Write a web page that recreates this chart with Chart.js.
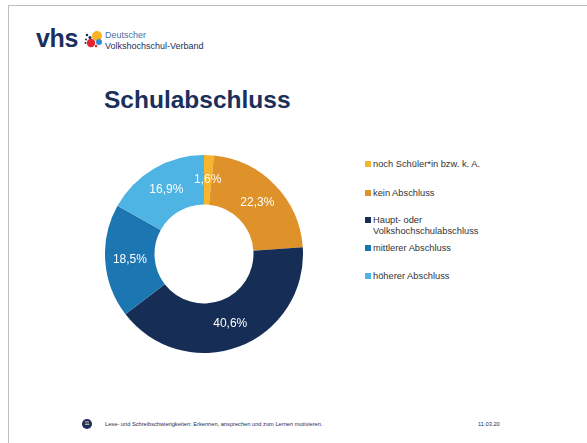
<!DOCTYPE html>
<html>
<head>
<meta charset="utf-8">
<script src="https://cdn.jsdelivr.net/npm/chart.js@4/dist/chart.umd.min.js"></script>
<style>
  body { margin: 0; width: 587px; height: 443px; background: #fff; font-family: "Liberation Sans", Arial, sans-serif; position: relative; overflow: hidden; }
  .frame-top { position: absolute; left: 8px; top: 5px; right: 0; height: 1px; background: #bdbdbd; }
  .frame-left { position: absolute; left: 8px; top: 5px; bottom: 0; width: 1px; background: #bdbdbd; }
  .logo-text { position: absolute; left: 36px; top: 24px; font-weight: bold; font-size: 25px; color: #1b2f5c; letter-spacing: -0.3px; }
  .org { position: absolute; left: 105px; top: 30px; font-size: 9px; line-height: 11px; color: #1b2f5c; }
  .org .light { color: #4a6ea0; }
  h1 { position: absolute; left: 104px; top: 86px; margin: 0; font-size: 24.5px; font-weight: bold; color: #1b2f5c; }
  #wrap { position: absolute; left: 105px; top: 155px; width: 198px; height: 198px; }
  #legend { position: absolute; left: 365px; top: 155px; font-size: 9.3px; color: #333; }
  .item { position: absolute; left: 0; white-space: nowrap; line-height: 11px; }
  .item .box { position: absolute; left: 0; top: 2px; width: 6px; height: 6px; }
  .item .txt { position: absolute; left: 8px; top: 0; }
  .foot-dot { position: absolute; left: 82px; top: 419px; width: 10px; height: 10px; border-radius: 50%; background: #1b2f5c; color: #fff; font-size: 4.5px; text-align: center; line-height: 10px; }
  .foot { position: absolute; left: 105px; top: 421px; font-size: 5.7px; color: #1b2f5c; }
  .date { position: absolute; left: 478px; top: 421px; font-size: 5.7px; color: #1b2f5c; }
</style>
</head>
<body>
<div class="frame-top"></div>
<div class="frame-left"></div>

<div class="logo-text">vhs</div>
<svg style="position:absolute;left:82px;top:28px" width="24" height="22">
  <circle cx="15" cy="8" r="5" fill="#f7b324"/>
  <circle cx="5" cy="7" r="1.3" fill="#1b2f5c"/>
  <circle cx="8" cy="9.5" r="1.6" fill="#1b2f5c"/>
  <circle cx="4" cy="11.5" r="1" fill="#1b2f5c"/>
  <circle cx="9" cy="15" r="4.2" fill="#e3262e"/>
  <circle cx="17" cy="14" r="3" fill="#2b8fd6"/>
  <circle cx="14" cy="18" r="1.3" fill="#e3262e"/>
  <circle cx="3.5" cy="15" r="1" fill="#1b2f5c"/>
</svg>
<div class="org"><span class="light">Deutscher</span><br>Volkshochschul-Verband</div>

<h1>Schulabschluss</h1>

<div id="wrap"><canvas id="donut"></canvas></div>
<div id="legend"></div>

<div class="foot-dot">11</div>
<div class="foot">Lese- und Schreibschwierigkeiten: Erkennen, ansprechen und zum Lernen motivieren.</div>
<div class="date">11.03.20</div>

<script>
const categories = [
  ['noch Schüler*in bzw. k. A.'],
  ['kein Abschluss'],
  ['Haupt- oder', 'Volkshochschulabschluss'],
  ['mittlerer Abschluss'],
  ['höherer Abschluss']
];
const shares = [1.6, 22.3, 40.6, 18.5, 16.9];
const colors = ['#f5b52d', '#df9229', '#162e56', '#1b76b1', '#4db4e4'];
const legendTops = [4, 33, 60, 88, 116];

// legend built from the arrays
const legend = document.getElementById('legend');
categories.forEach((lines, i) => {
  const item = document.createElement('div');
  item.className = 'item';
  item.style.top = legendTops[i] + 'px';
  item.innerHTML = '<span class="box" style="background:' + colors[i] + '"></span><span class="txt">' + lines.join('<br>') + '</span>';
  legend.appendChild(item);
});

const sliceLabels = {
  id: 'sliceLabels',
  afterDatasetsDraw(chart) {
    const ctx = chart.ctx;
    const meta = chart.getDatasetMeta(0);
    ctx.save();
    ctx.fillStyle = '#fff';
    ctx.font = '12px "Liberation Sans", Arial, sans-serif';
    ctx.textAlign = 'center';
    ctx.textBaseline = 'middle';
    meta.data.forEach((arc, i) => {
      const p = arc.tooltipPosition();
      ctx.fillText(shares[i].toFixed(1).replace('.', ',') + '%', p.x, p.y);
    });
    ctx.restore();
  }
};

new Chart(document.getElementById('donut'), {
  type: 'doughnut',
  data: {
    labels: categories.map(c => c.join(' ')),
    datasets: [{
      data: shares,
      backgroundColor: colors,
      borderWidth: 0
    }]
  },
  options: {
    responsive: true,
    maintainAspectRatio: false,
    animation: false,
    cutout: '50%',
    layout: { padding: 0 },
    plugins: {
      legend: { display: false },
      tooltip: { enabled: false }
    }
  },
  plugins: [sliceLabels]
});
</script>
</body>
</html>
